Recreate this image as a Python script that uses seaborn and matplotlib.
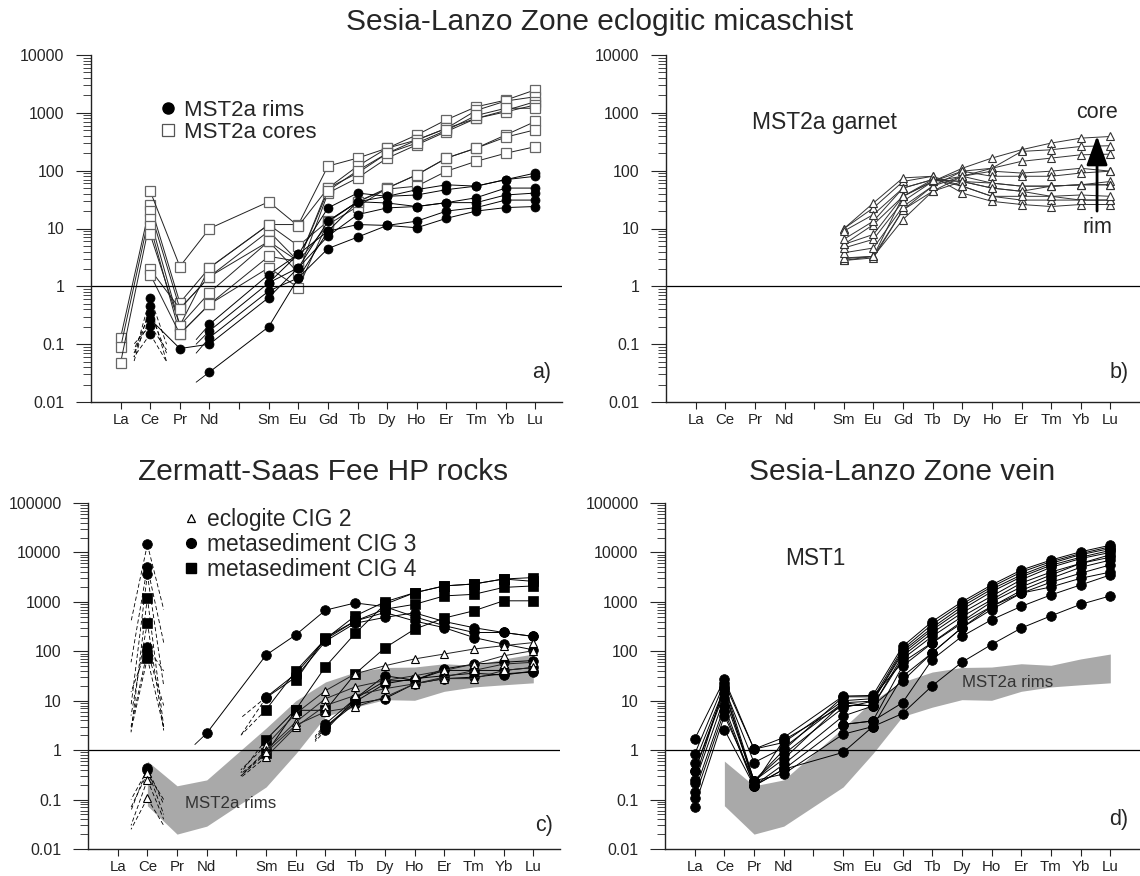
import numpy as np
import pandas as pd
import seaborn as sns
import matplotlib.pyplot as plt
from matplotlib.lines import Line2D
from matplotlib.ticker import LogLocator, NullFormatter

N = np.nan

# x axis: chondrite-normalised REE, Pm left blank
elements = ['La', 'Ce', 'Pr', 'Nd', 'Pm', 'Sm', 'Eu', 'Gd', 'Tb', 'Dy', 'Ho', 'Er', 'Tm', 'Yb', 'Lu']
tick_labels = ['La', 'Ce', 'Pr', 'Nd', '', 'Sm', 'Eu', 'Gd', 'Tb', 'Dy', 'Ho', 'Er', 'Tm', 'Yb', 'Lu']
ree = ['La', 'Ce', 'Pr', 'Nd', 'Sm', 'Eu', 'Gd', 'Tb', 'Dy', 'Ho', 'Er', 'Tm', 'Yb', 'Lu']

# ---- a) MST2a whole-rock spots
#                 La     Ce    Pr    Nd    Sm    Eu    Gd   Tb   Dy   Ho   Er    Tm    Yb    Lu
mst2a_cores = {
    'C1': [0.13,  26,  0.52, 2.1,  11.7, 11.7, 120, 165, 245, 415, 760, 1270, 1660, 2500],
    'C2': [N,     44,  2.2,  10,   29,   11,   50,  120, 245, 340, 540, 1100, 1600, 1900],
    'C3': [0.088, 20,  0.41, 1.47, 9,    2.7,  50,  91,  200, 340, 540, 800,  1100, 1560],
    'C4': [0.048, 14.5, 0.21, 0.78, 6,   1.7,  41,  75,  165, 280, 475, 800,  1040, 1370],
    'C5': [N,     11,  0.15, 0.49, 3.3,  2.7,  45,  100, 200, 300, 500, 900,  1200, 1200],
    'C6': [N,     7.9, 0.21, 2.1,  11.7, 5,    13.4, 29, 50,  85,  165, 245,  415,  710],
    'C7': [N,     1.96, 0.41, 1.47, 6,   2.7,  11.7, 24, 50,  85,  165, 245,  380,  510],
    'C8': [N,     1.6, 0.15, 0.49, 2.1,  0.95, 13,  29,  48,  54,  98,  145,  200,  260],
}
mst2a_rims = {
    'R1': [N, 0.64, N,     0.22,  1.6,  3.6, 22.7, 41,  36,   47,   57, 54, 70, 91],
    'R2': [N, 0.46, N,     0.17,  1.15, 2.1, 13.4, 29,  36,   38,   47, 54, 70, 80],
    'R3': [N, 0.35, N,     0.13,  0.83, 1.4, 9,    29,  27.6, 24,   28, 34, 50, 50],
    'R4': [N, 0.27, 0.084, 0.1,   0.64, 2.1, 7.4,  17.4, 22.7, 24,  28, 28, 38, 41],
    'R5': [N, 0.21, N,     0.033, 0.2,  1.4, 4.5,  7.1, 11.3, 10.3, 15, 20, 23, 24],
    'R6': [N, 0.15, N,     N,     1.15, 3.6, 9,    11.7, 11.3, 13.4, 20, 23, 31, 31],
}
# dashed ends of rim patterns towards La and Pr (below detection), solid ends towards Pr at Nd
rims_ce_left_end = [0.06, 0.05, 0.08, 0.07, 0.1, 0.06]
rims_ce_right_end = [0.1, 0.05, 0.07, N, 0.08, 0.05]
rims_nd_left_end = [0.12, 0.1, 0.07, N, 0.022, N]

# ---- b) MST2a garnet
#             Sm    Eu    Gd    Tb  Dy   Ho   Er   Tm   Yb   Lu
garnet = {
    'G1':  [3.0, 3.3,  36,   65, 110, 165, 230, 300, 365, 390],
    'G2':  [2.8, 3.1,  21,   54, 98,  110, 215, 230, 262, 270],
    'G3':  [3.1, 3.3,  14.3, 44, 80,  110, 145, 165, 188, 193],
    'G4':  [3.8, 4.6,  24,   54, 80,  98,  91,  98,  110, 98],
    'G5':  [4.6, 6.5,  29.5, 65, 98,  80,  80,  80,  91,  98],
    'G6':  [5.3, 7.9,  36,   65, 80,  61,  54,  54,  57,  65],
    'G7':  [5.3, 11.7, 36,   70, 65,  61,  54,  54,  57,  57],
    'G8':  [6.5, 13.4, 50,   70, 65,  50,  44,  54,  57,  57],
    'G9':  [9,   17.4, 50,   70, 54,  36,  36,  36,  38,  36],
    'G10': [9.9, 22.7, 65,   80, 54,  36,  31,  31,  31,  31],
    'G11': [9.9, 27.6, 75,   80, 41,  29.5, 26, 24,  26,  26],
    'G12': [2.8, 3.3,  21,   44, 65,  50,  44,  36,  31,  31],
}
garnet_ree = ree[4:]

# ---- c) Zermatt-Saas Fee
#              La  Ce     Pr  Nd   Sm    Eu   Gd   Tb   Dy   Ho    Er    Tm    Yb    Lu
cig2 = {
    'T1': [N, 0.34,  N, N, 1.26, 5.5,  16,  35,  51,   70, 88, 111, 130, 150],
    'T2': [N, 0.25,  N, N, 1.0,  3.7,  11,  19,  25.6, 32, 41, 55,  81,  103],
    'T3': [N, 0.106, N, N, 0.73, 2.95, 8,   12.8, 17.5, 22, 30, 41, 55,  60],
    'T4': [N, N,     N, N, 0.9,  3.2,  6,   7.5, 11.8, 22, 28, 28,  41,  47],
}
cig3 = {
    'M1': [N, 14500, N, 2.2, 84,   215, 680, 950, 800, 500, 330, 240, 240, 200],
    'M2': [N, 5100,  N, N,   11.8, 35,  175, 410, 610, 410, 300, 190, 140, 107],
    'M3': [N, 3600,  N, N,   11.5, 30,  160, 370, 485, 600, 400, 300, 240, 200],
    'M4': [N, 120,   N, N,   N,    N,   3.4, 11,  32,  26,  44,  55,  60,  65],
    'M5': [N, 0.43,  N, N,   N,    N,   2.9, 8.7, 11,  22,  28,  30,  35,  38],
    'M6': [N, 0.4,   N, N,   N,    N,   2.5, 11,  25,  26,  41,  41,  41,  47],
    'M7': [N, 100,   N, N,   N,    N,   3.0, 9.5, 22,  28,  32,  36,  33,  40],
}
cig4 = {
    'S1': [N, 1220, N, N, 6.6,  40,   178, 520, 1000, 1530, 2100, 2300, 2900, 3100],
    'S2': [N, 380,  N, N, N,    25.7, 190, 410, 710,  890,  1320, 1420, 1960, 2100],
    'S3': [N, 73,   N, N, 1.64, 6.6,  49,  230, 890,  1530, 2100, 2300, 2900, 2600],
    'S4': [N, N,    N, N, 0.86, 6.4,  6.4, 35,  117,  280,  470,  660,  1050, 1050],
}
c_ce_tail_series = ['M1', 'M2', 'M3', 'S1', 'S2', 'M4', 'M7', 'S3', 'M5', 'M6', 'T1', 'T2', 'T3']
c_ce_left_end = [400, 60, 8, 2.3, 5, 15, 3, 2.5, 0.06, 0.1, 0.07, 0.03, 0.025]
c_ce_right_end = [700, 150, 20, 3, 2.5, 40, 8, 2.8, 0.08, 0.05, 0.1, 0.04, 0.03]
c_sm_tail_series = ['M2', 'M3', 'S1', 'S3', 'S4', 'T1', 'T2', 'T3', 'T4']
c_sm_left_end = [4.5, 2.0, 2.0, 0.35, 0.3, 0.4, 0.3, 0.28, 0.33]
c_gd_tail_series = ['M4', 'M5', 'M6', 'M7']
c_gd_left_end = [1.9, 1.6, 1.5, 1.8]
c_nd_tail_series = ['M1']
c_nd_left_end = [1.3]

# ---- d) MST1 vein
#               La     Ce    Pr    Nd    Sm    Eu    Gd   Tb   Dy    Ho    Er    Tm    Yb     Lu
mst1 = {
    'D1':  [1.67,  27,   1.05, 1.8,  12.4, 12.8, 125, 400, 1000, 2200, 4400, 7000, 10300, 14000],
    'D2':  [0.83,  23,   1.05, 1.43, 10,   11,   110, 350, 900,  2000, 4000, 6500, 9500,  13000],
    'D3':  [0.56,  18,   0.56, 1.13, 9.1,  9.8,  100, 300, 800,  1800, 3500, 6000, 9000,  12000],
    'D4':  [0.38,  14.5, 0.24, 0.83, 7.2,  9.8,  90,  270, 700,  1600, 3200, 5500, 8000,  11000],
    'D5':  [0.22,  11.5, 0.24, 0.66, 9.1,  7.8,  80,  235, 600,  1300, 2800, 5000, 7500,  10000],
    'D6':  [0.145, 7.8,  0.19, 0.52, 4.9,  7.8,  70,  200, 500,  1100, 2400, 4000, 6000,  9000],
    'D7':  [0.11,  6.2,  0.19, 0.41, 3.3,  3.9,  50,  147, 370,  810,  1500, 2500, 3800,  5600],
    'D8':  [0.072, 5,    0.24, 0.33, 2.1,  3.0,  31,  93,  300,  700,  1500, 2000, 3000,  4000],
    'D9':  [N,     2.6,  0.19, 0.41, 0.9,  3.0,  5.5, 20,  60,   137,  295,  520,  890,   1320],
    'D10': [N,     N,    N,    N,    3.3,  3.9,  9.1, 68,  200,  435,  810,  1380, 2200,  3500],
    'D11': [0.25,  20,   0.24, 1.0,  12,   12,   60,  150, 400,  1000, 2000, 3500, 6000,  8000],
    'D12': [0.38,  17,   0.2,  1.6,  8,    8,    25,  93,  300,  800,  1700, 3000, 5000,  7000],
}

# envelope of MST2a rims (grey field in c and d), Ce..Lu
band_ree = ree[1:]
band_lo = [0.075, 0.02, 0.029, 0.18, 0.85, 4.8, 7.4, 10.5, 10.2, 15.5, 19, 21, 23]
band_hi = [0.6, 0.19, 0.25, 2.8, 10, 24, 38, 47, 48, 56, 52, 70, 88]

pos = {e: i + 1 for i, e in enumerate(elements)}


def long_form(series, names):
    # one row per measured point, runs split at missing values
    rows = []
    for key, vals in series.items():
        run = 0
        for el, v in zip(names, vals):
            if np.isnan(v):
                run += 1
                continue
            rows.append((f'{key}_{run}', pos[el], v))
    return pd.DataFrame(rows, columns=['run', 'x', 'val'])


def draw_series(ax, series, names, **kws):
    df = long_form(series, names)
    sns.lineplot(data=df, x='x', y='val', units='run', estimator=None, ax=ax,
                 legend=False, **kws)


def draw_tails(ax, el, starts, ends, dx, ls=(0, (5, 3)), color='k'):
    for s, e in zip(starts, ends):
        if np.isnan(e):
            continue
        ax.plot([pos[el], pos[el] + dx], [s, e], color=color, ls=ls, lw=0.6, zorder=1)


def style_axes(ax, lo, hi, xmax):
    ax.set_xlim(0, xmax)
    ax.set_ylim(10.0 ** lo, 10.0 ** hi)
    decades = [10.0 ** k for k in range(lo, hi + 1)]
    ax.set_yticks(decades, [f'{d:g}' for d in decades])
    ax.yaxis.set_minor_locator(LogLocator(base=10, subs=np.arange(2, 10), numticks=30))
    ax.yaxis.set_minor_formatter(NullFormatter())
    ax.set_xticks(range(1, len(elements) + 1), tick_labels)
    ax.tick_params(axis='x', length=5, width=0.8, pad=3, labelsize=10.8, colors='#222')
    ax.tick_params(axis='y', which='major', length=11, width=0.8, pad=8, labelsize=11.5)
    ax.tick_params(axis='y', which='minor', length=6, width=0.6)
    ax.set_xlabel('')
    ax.set_ylabel('')
    ax.axhline(1, color='k', lw=0.9, zorder=2)
    sns.despine(ax=ax)
    for side in ['left', 'bottom']:
        ax.spines[side].set_linewidth(1.0)
        ax.spines[side].set_color('#222')


sns.set_style('ticks')
plt.rcParams['font.family'] = ['Liberation Sans', 'DejaVu Sans']

fig = plt.figure(figsize=(11.4, 8.76), dpi=100)
W, H = 1140, 876
ax_a = fig.add_axes([91 / W, 1 - 402 / H, 471 / W, 347 / H])
ax_b = fig.add_axes([666 / W, 1 - 402 / H, 474 / W, 347 / H])
ax_c = fig.add_axes([88 / W, 1 - 849 / H, 472 / W, 346 / H])
ax_d = fig.add_axes([665 / W, 1 - 849 / H, 475 / W, 346 / H])
for ax in [ax_a, ax_b, ax_c, ax_d]:
    ax.set_yscale('log')

# a)
draw_series(ax_a, mst2a_cores, ree, color='#222', lw=0.7, marker='s', ms=6.5,
            mfc='white', mec='#666', mew=0.9)
rim_ce = [v[1] for v in mst2a_rims.values()]
rim_nd = [v[3] for v in mst2a_rims.values()]
draw_tails(ax_a, 'Ce', rim_ce, rims_ce_left_end, -0.55)
draw_tails(ax_a, 'Ce', rim_ce, rims_ce_right_end, 0.55)
draw_tails(ax_a, 'Nd', rim_nd, rims_nd_left_end, -0.45, ls='-')
draw_series(ax_a, mst2a_rims, ree, color='k', lw=0.7, marker='o', ms=6.5,
            mfc='k', mec='k', mew=0.5)
style_axes(ax_a, -2, 4, 15.9)
ax_a.legend([Line2D([], [], ls='', marker='o', color='k', ms=8),
             Line2D([], [], ls='', marker='s', mfc='white', mec='#555', ms=8, mew=0.9)],
            ['MST2a rims', 'MST2a cores'], loc='upper left', bbox_to_anchor=(0.152, 0.87),
            frameon=False, fontsize=16, handlelength=0.5, handletextpad=0.45,
            labelspacing=0.05, borderpad=0, borderaxespad=0)
ax_a.text(0.957, 0.084, 'a)', transform=ax_a.transAxes, ha='center', va='center', fontsize=15.5)

# b)
draw_series(ax_b, garnet, garnet_ree, color='#333', lw=0.7, marker='^', ms=6,
            mfc='white', mec='#333', mew=0.8)
style_axes(ax_b, -2, 4, 16.0)
ax_b.text(2.9, 670, 'MST2a garnet', ha='left', va='center', fontsize=16.5)
ax_b.text(14.55, 1000, 'core', ha='center', va='center', fontsize=15.5)
ax_b.text(14.55, 10.5, 'rim', ha='center', va='center', fontsize=15.5)
ax_b.annotate('', xy=(14.55, 400), xytext=(14.55, 20),
              arrowprops=dict(arrowstyle='-|>,head_length=1.8,head_width=0.65',
                              mutation_scale=10, lw=2, color='k', shrinkA=0, shrinkB=0))
ax_b.text(0.955, 0.084, 'b)', transform=ax_b.transAxes, ha='center', va='center', fontsize=15.5)

# c)
c_all = {**cig2, **cig3, **cig4}
ax_c.fill_between([pos[e] for e in band_ree], band_lo, band_hi, color='#a9a9a9', lw=0, zorder=0)
draw_tails(ax_c, 'Ce', [c_all[k][1] for k in c_ce_tail_series], c_ce_left_end, -0.55)
draw_tails(ax_c, 'Ce', [c_all[k][1] for k in c_ce_tail_series], c_ce_right_end, 0.55)
draw_tails(ax_c, 'Sm', [c_all[k][4] for k in c_sm_tail_series], c_sm_left_end, -0.85)
draw_tails(ax_c, 'Gd', [c_all[k][6] for k in c_gd_tail_series], c_gd_left_end, -0.35)
draw_tails(ax_c, 'Nd', [c_all[k][3] for k in c_nd_tail_series], c_nd_left_end, -0.4, ls='-')
draw_series(ax_c, cig3, ree, color='k', lw=0.7, marker='o', ms=7, mfc='k', mec='k', mew=0.5)
draw_series(ax_c, cig4, ree, color='k', lw=0.7, marker='s', ms=6.7, mfc='k', mec='k', mew=0.5)
draw_series(ax_c, cig2, ree, color='#222', lw=0.7, marker='^', ms=6.2, mfc='white', mec='k', mew=0.8)
style_axes(ax_c, -2, 5, 15.9)
ax_c.text(3.27, 0.085, 'MST2a rims', ha='left', va='center', fontsize=12.2, color='#333')
ax_c.legend([Line2D([], [], ls='', marker='^', mfc='white', mec='k', ms=5.5, mew=0.9),
             Line2D([], [], ls='', marker='o', color='k', ms=7),
             Line2D([], [], ls='', marker='s', color='k', ms=6.5)],
            ['eclogite CIG 2', 'metasediment CIG 3', 'metasediment CIG 4'],
            loc='upper left', bbox_to_anchor=(0.207, 0.985), frameon=False, fontsize=16.4,
            handlelength=0.5, handletextpad=0.45, labelspacing=0.08, borderpad=0,
            borderaxespad=0)
ax_c.text(0.966, 0.069, 'c)', transform=ax_c.transAxes, ha='center', va='center', fontsize=15.5)

# d)
ax_d.fill_between([pos[e] for e in band_ree], band_lo, band_hi, color='#a9a9a9', lw=0, zorder=0)
draw_series(ax_d, mst1, ree, color='k', lw=0.7, marker='o', ms=7, mfc='k', mec='k', mew=0.5)
style_axes(ax_d, -2, 5, 16.0)
ax_d.text(10.0, 23.4, 'MST2a rims', ha='left', va='center', fontsize=12.2, color='#333')
ax_d.text(4.06, 7700, 'MST1', ha='left', va='center', fontsize=16.3)
ax_d.text(0.955, 0.084, 'd)', transform=ax_d.transAxes, ha='center', va='center', fontsize=15.5)

fig.text(600 / W, 1 - 22 / H, 'Sesia-Lanzo Zone eclogitic micaschist', ha='center', va='center', fontsize=21.5)
fig.text(323 / W, 1 - 472 / H, 'Zermatt-Saas Fee HP rocks', ha='center', va='center', fontsize=21.5)
fig.text(902 / W, 1 - 472 / H, 'Sesia-Lanzo Zone vein', ha='center', va='center', fontsize=21.5)

fig.savefig('out.png', dpi=100)
